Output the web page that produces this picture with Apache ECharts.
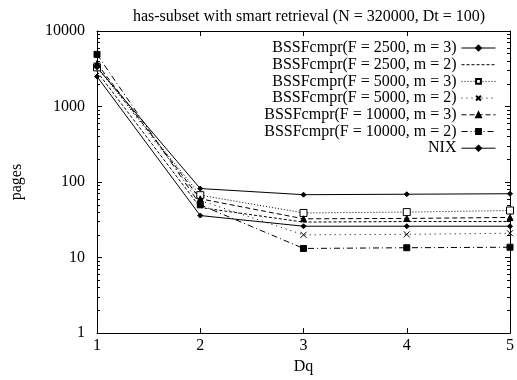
<!DOCTYPE html>
<html><head><meta charset="utf-8">
<script src="https://cdn.jsdelivr.net/npm/echarts@6/dist/echarts.min.js"></script>
<style>html,body{margin:0;padding:0;background:#fff}#c{width:517px;height:380px}</style>
</head><body><div id="c"></div>
<script>
const categories = [1, 2, 3, 4, 5];
const seriesNames = [
  'BSSFcmpr(F = 2500, m = 3)',
  'BSSFcmpr(F = 2500, m = 2)',
  'BSSFcmpr(F = 5000, m = 3)',
  'BSSFcmpr(F = 5000, m = 2)',
  'BSSFcmpr(F = 10000, m = 3)',
  'BSSFcmpr(F = 10000, m = 2)',
  'NIX'
];
const f2500m3 = [2500, 36, 26, 26, 26];
const f2500m2 = [2900, 46, 29.5, 30, 30];
const f5000m3 = [3300, 67, 39, 40, 42];
const f5000m2 = [3500, 57, 20, 20.3, 21];
const f10000m3 = [3700, 60, 32.6, 33, 34];
const f10000m2 = [4900, 50, 13.2, 13.5, 13.7];
const nix = [3300, 82, 68, 69, 70];
const yTicks = [1, 10, 100, 1000, 10000];

const FONT = 'Liberation Serif';
const xMark = 'path://M0,0L10,10M10,0L0,10';
const styles = [
  {type: 'solid', symbol: 'diamond', size: 5, fill: '#000'},
  {type: [3, 2], symbol: 'none', size: 0, fill: '#000'},
  {type: [1, 2], symbol: 'rect', size: 7, fill: '#fff'},
  {type: [1, 4], symbol: xMark, size: 6, fill: 'none'},
  {type: [5, 3], symbol: 'triangle', size: 6, fill: '#000'},
  {type: [6, 3, 1, 3], symbol: 'rect', size: 6, fill: '#000'},
  {type: 'solid', symbol: 'diamond', size: 5, fill: '#000'}
];
const values = [f2500m3, f2500m2, f5000m3, f5000m2, f10000m3, f10000m2, nix];

const series = values.map((v, i) => ({
  name: seriesNames[i],
  type: 'line',
  data: v.map((y, j) => [categories[j], y]),
  symbol: styles[i].symbol === 'none' ? 'circle' : styles[i].symbol,
  symbolSize: styles[i].size,
  showSymbol: styles[i].symbol !== 'none',
  lineStyle: {color: '#000', width: 1, type: styles[i].type},
  itemStyle: {color: styles[i].fill, borderColor: '#000', borderWidth: 1},
  emphasis: {disabled: true},
  animation: false
}));

const legendData = seriesNames.map((n, i) => styles[i].symbol === 'none'
  ? {name: n, itemStyle: {color: 'rgba(0,0,0,0)', borderColor: 'rgba(0,0,0,0)', borderWidth: 0}}
  : {name: n});

const chart = echarts.init(document.getElementById('c'));
const axisCommon = {
  axisLine: {show: true, lineStyle: {color: '#000', width: 1}},
  splitLine: {show: false}
};
chart.setOption({
  backgroundColor: '#fff',
  title: {
    text: 'has-subset with smart retrieval (N = 320000, Dt = 100)',
    left: 304, top: 4, textAlign: 'center',
    textStyle: {fontFamily: FONT, fontSize: 16, fontWeight: 'normal', color: '#000'}
  },
  legend: {
    orient: 'vertical', right: 16, top: 35,
    align: 'right',
    itemWidth: 34, itemHeight: 6, itemGap: 0.7,
    lineStyle: {width: 1},
    textStyle: {fontFamily: FONT, fontSize: 16, color: '#000', width: 196, align: 'right'},
    data: legendData
  },
  grid: {left: 97, right: 5, top: 31, bottom: 41},
  xAxis: [{
    type: 'value', min: 1, max: 5, interval: 1,
    name: 'Dq', nameLocation: 'middle', nameGap: 20,
    nameTextStyle: {fontFamily: FONT, fontSize: 16, color: '#000'},
    axisLabel: {fontFamily: FONT, fontSize: 16, color: '#000', margin: 5},
    axisTick: {show: true, inside: true, length: 5, lineStyle: {color: '#000'}},
    ...axisCommon
  }, {
    type: 'value', min: 1, max: 5, interval: 1, position: 'top',
    axisLabel: {show: false},
    axisTick: {show: true, inside: true, length: 5, lineStyle: {color: '#000'}},
    ...axisCommon
  }],
  yAxis: [{
    type: 'log', logBase: 10, min: 1, max: 10000,
    name: 'pages', nameLocation: 'middle', nameGap: 72, nameRotate: 90,
    nameTextStyle: {fontFamily: FONT, fontSize: 16, color: '#000'},
    axisLabel: {fontFamily: FONT, fontSize: 16, color: '#000', margin: 12,
      formatter: v => String(yTicks.find(t => Math.abs(t - v) < 1e-6 * t) ?? v)},
    axisTick: {show: true, inside: true, length: 5, lineStyle: {color: '#000'}},
    minorTick: {show: true, splitNumber: 9, length: 3, lineStyle: {color: '#000'}},
    ...axisCommon
  }, {
    type: 'log', logBase: 10, min: 1, max: 10000, position: 'right',
    axisLabel: {show: false},
    axisTick: {show: true, inside: true, length: 5, lineStyle: {color: '#000'}},
    minorTick: {show: true, splitNumber: 9, length: 3, lineStyle: {color: '#000'}},
    ...axisCommon
  }],
  series: series
});
</script></body></html>
